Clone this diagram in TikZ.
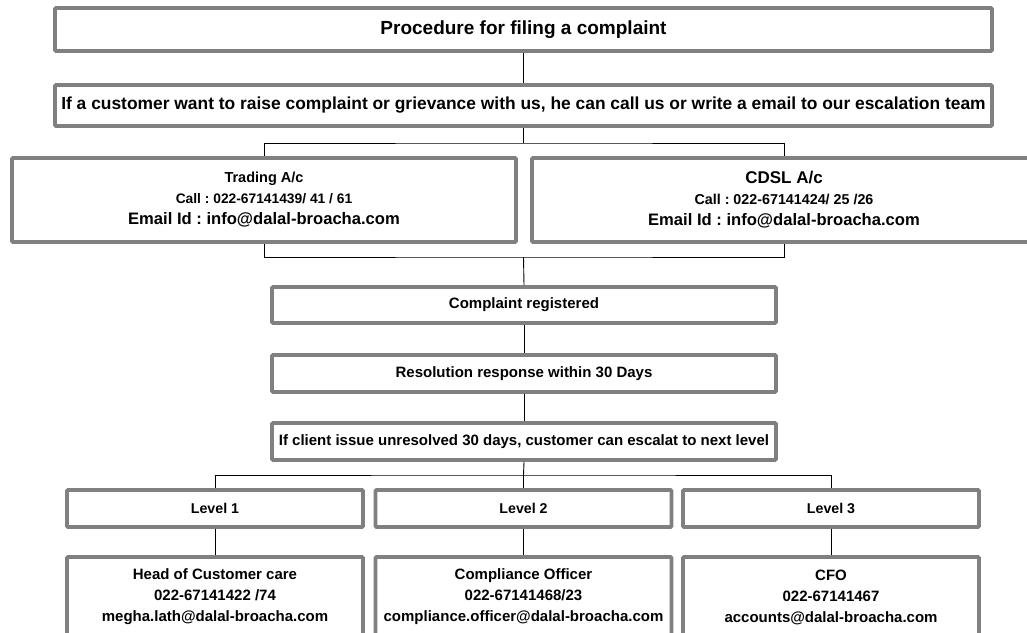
\documentclass[tikz,border=0pt]{standalone}
\usepackage{fontspec}
\setmainfont{Liberation Sans}
\usetikzlibrary{calc}

\definecolor{boxgray}{RGB}{128,128,128}
\newcommand{\fsz}[2]{\fontsize{#1}{#2}\selectfont}
\frenchspacing

\tikzset{
  box/.style={draw=boxgray, line width=3.8pt, rounded corners=1pt, fill=white,
    align=center, inner sep=0pt, font=\fsz{15}{21}\bfseries},
  link/.style={draw=black, line width=0.9pt},
}

\begin{document}
\begin{tikzpicture}[x=1pt,y=-1pt]
    \useasboundingbox (0,0) rectangle (1027,632);

    % top part
    \node[box, minimum width=937pt, minimum height=43pt] (title) at (523.5,29.5)
        {\fsz{19}{23}Procedure for filing a complaint};
    \node[box, minimum width=937pt, minimum height=41pt] (askbox) at (523.5,105.5)
        {\fsz{17.4}{21}If a customer want to raise complaint or grievance with us, he can call us or write a email to our escalation team};

    \node[box, minimum width=504pt, minimum height=84pt] (trading) at (264,200)
        {{\fsz{14.5}{20}Trading A/c}\\{\fsz{13.8}{20}Call : 022-67141439/ 41 / 61}\\{\fsz{16.6}{21}Email Id : info@dalal-broacha.com}};
    \node[box, minimum width=504pt, minimum height=84pt] (cdsl) at (784,200)
        {{\fsz{17}{20}CDSL A/c}\\{\fsz{14.3}{20}Call : 022-67141424/ 25 /26}\\{\fsz{16.6}{21}Email Id : info@dalal-broacha.com}};

    % middle steps
    \node[box, minimum width=504pt, minimum height=36pt] (registered) at (524,305) {Complaint registered};
    \node[box, minimum width=504pt, minimum height=37pt] (resolution) at (524,373.5) {Resolution response within 30 Days};
    \node[box, minimum width=504pt, minimum height=37pt] (escalate) at (524,441.5)
        {If client issue unresolved 30 days, customer can escalat to next level};

    % levels
    \node[box, minimum width=296pt, minimum height=37pt] (levelone) at (215,508.5) {\fsz{14.2}{21}Level 1};
    \node[box, minimum width=296pt, minimum height=37pt] (leveltwo) at (523.5,508.5) {\fsz{14.2}{21}Level 2};
    \node[box, minimum width=296pt, minimum height=37pt] (levelthree) at (831,508.5) {\fsz{14.2}{21}Level 3};

    \node[box, minimum width=296pt, minimum height=80pt] (headcare) at (215,597)
        {Head of Customer care\\022-67141422 /74\\megha.lath@dalal-broacha.com};
    \node[box, minimum width=296pt, minimum height=80pt] (compliance) at (523.5,597)
        {Compliance Officer\\022-67141468/23\\compliance.officer@dalal-broacha.com};
    \node[box, minimum width=296pt, minimum height=80pt] (cfo) at (831,597)
        {CFO\\022-67141467\\accounts@dalal-broacha.com};

    % connectors
    \coordinate (topsplit) at (523.5,143);
    \coordinate (joinpt) at (523.5,257);
    \coordinate (levelsplit) at (523.5,475);

    \draw[link] (title) -- (askbox);
    \draw[link] (askbox) -- (topsplit);
    \draw[link] (trading.north) |- (topsplit) -| (cdsl.north);
    \draw[link] (trading.south) |- (joinpt) -| (cdsl.south);
    \draw[link] (joinpt) -- (registered.north);
    \draw[link] (registered) -- (resolution);
    \draw[link] (resolution) -- (escalate);
    \draw[link] (escalate.south) -- (levelsplit);
    \draw[link] (levelone.north) |- (levelsplit) -| (levelthree.north);
    \draw[link] (levelsplit) -- (leveltwo.north);
    \draw[link] (levelone) -- (headcare);
    \draw[link] (leveltwo) -- (compliance);
    \draw[link] (levelthree) -- (cfo);
\end{tikzpicture}
\end{document}
